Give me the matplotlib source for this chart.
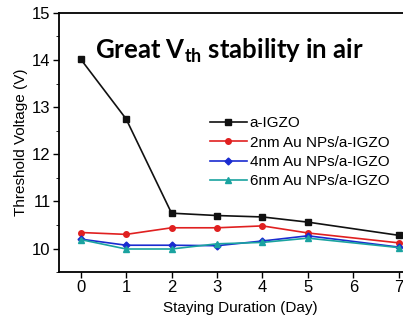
import matplotlib
matplotlib.use('Agg')
import matplotlib.pyplot as plt
from matplotlib.ticker import MultipleLocator

# dados
days = [0, 1, 2, 3, 4, 5, 7]
vth_igzo = [14.02, 12.75, 10.75, 10.70, 10.67, 10.56, 10.28]
vth_2nm = [10.34, 10.30, 10.44, 10.44, 10.48, 10.33, 10.12]
vth_4nm = [10.20, 10.07, 10.07, 10.06, 10.16, 10.27, 10.03]
vth_6nm = [10.19, 9.99, 9.99, 10.10, 10.13, 10.22, 10.02]
labels = ['a-IGZO', '2nm Au NPs/a-IGZO', '4nm Au NPs/a-IGZO', '6nm Au NPs/a-IGZO']

plt.rcParams['font.family'] = ['Liberation Sans', 'DejaVu Sans']
plt.rcParams['mathtext.fontset'] = 'custom'
plt.rcParams['mathtext.bf'] = 'Lato:bold'
plt.rcParams['mathtext.rm'] = 'Lato'

fig = plt.figure(figsize=(4.03, 3.22), dpi=100)
ax = fig.add_axes([0.146, 0.155, 0.9, 0.805])

ax.plot(days, vth_igzo, '-s', color='#111111', ms=4, lw=1.2, label=labels[0])
ax.plot(days, vth_2nm, '-o', color='#e02020', ms=4, lw=1.2, label=labels[1])
ax.plot(days, vth_4nm, '-D', color='#1a2bd0', ms=3.5, lw=1.2, label=labels[2])
ax.plot(days, vth_6nm, '-^', color='#1aa3a0', ms=4, lw=1.2, label=labels[3])

ax.set_xlim(-0.48, 7.5)
ax.set_ylim(9.5, 15)
ax.set_xticks(range(8))
ax.set_yticks([10, 11, 12, 13, 14, 15])
ax.yaxis.set_minor_locator(MultipleLocator(0.5))
ax.tick_params(direction='out', labelsize=12, width=1, length=4, pad=2)
ax.tick_params(which='minor', direction='out', length=2.5)
ax.spines['right'].set_visible(False)
for s in ['left', 'top', 'bottom']:
    ax.spines[s].set_linewidth(1.3)

ax.set_xlabel('Staying Duration (Day)', fontsize=11, labelpad=4)
ax.set_ylabel('Threshold Voltage (V)', fontsize=11, labelpad=3)

ax.text(0.47, 0.855, r'Great V$_{\mathbf{th}}$ stability in air', transform=ax.transAxes,
        ha='center', va='center', fontsize=18.5, fontweight='bold', family='Lato')

ax.legend(loc='upper left', bbox_to_anchor=(0.4, 0.625), frameon=False, fontsize=11,
          handlelength=2.4, handletextpad=0.2, labelspacing=0.35, borderaxespad=0)

fig.savefig('out.png', dpi=100)
